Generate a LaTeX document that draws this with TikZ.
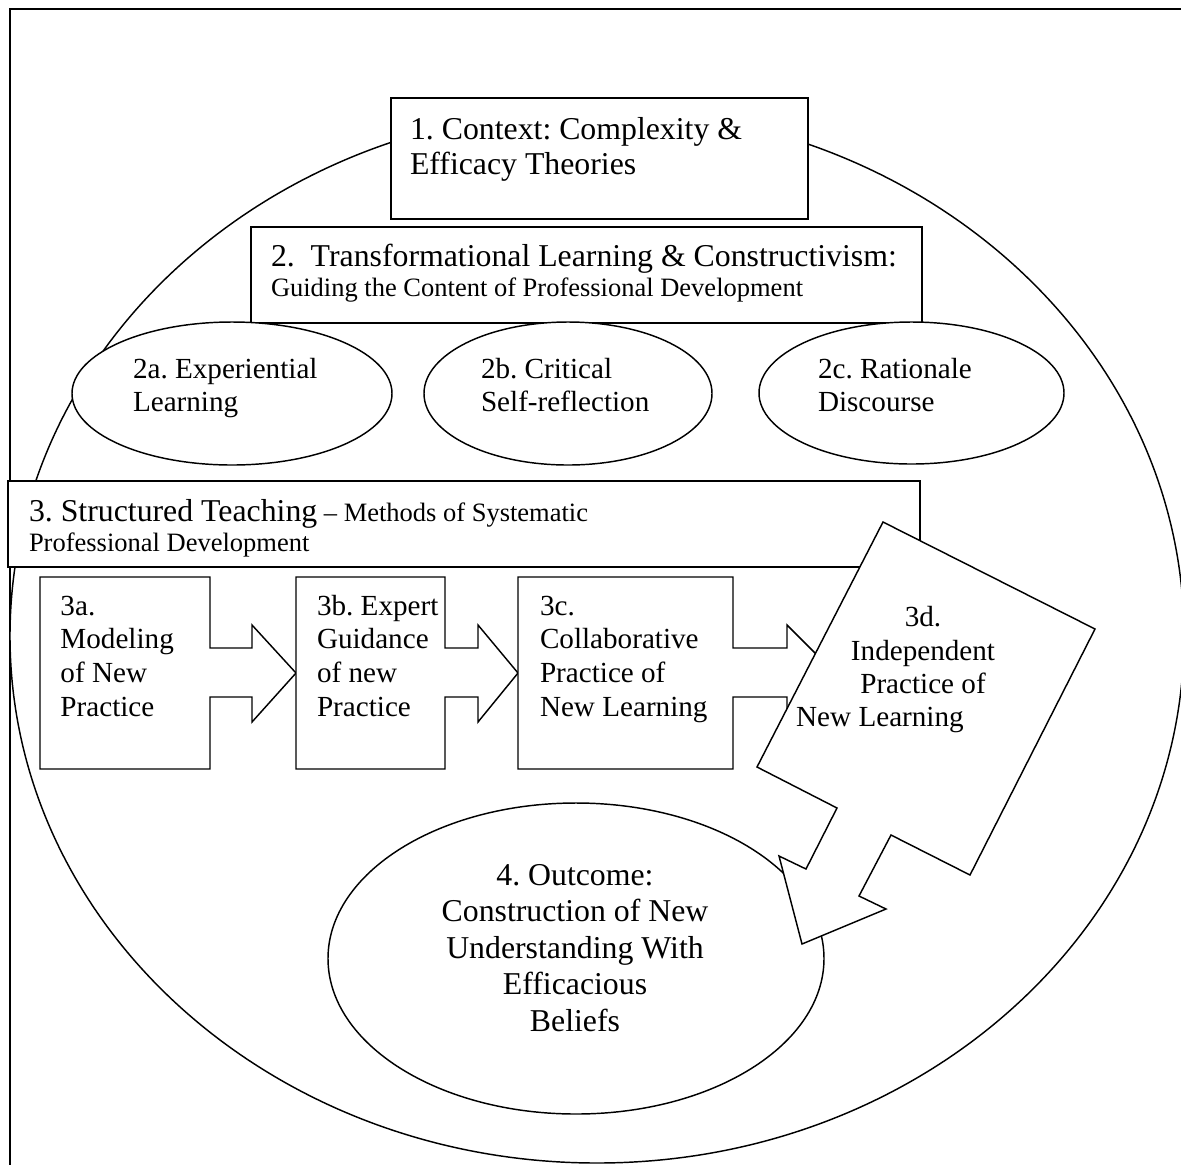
\documentclass[tikz,border=0pt]{standalone}
\usepackage{fontspec}
\setmainfont{Liberation Serif}
\usetikzlibrary{shapes.geometric}
\newcommand\pxu{0.3774pt}
\begin{document}
\frenchspacing
\begin{tikzpicture}[x=0.3774pt, y=-0.3774pt,
  lw/.style={line width=0.55pt},
  shapeline/.style={draw=black, lw, fill=white, line join=miter},
  oval/.style={ellipse, draw=black, lw, fill=white, inner sep=0pt, outer sep=0pt},
  boxn/.style={rectangle, draw=black, lw, fill=white, inner sep=0pt, outer sep=0pt},
  txt/.style={inner sep=0pt, outer sep=0pt, text=black},
  twelve/.style={font=\fontsize{12}{#1}\selectfont},
  eleven/.style={font=\fontsize{11}{#1}\selectfont},
  ten/.style={font=\fontsize{10}{#1}\selectfont}
]
\useasboundingbox (0,0) rectangle (1181,1164);
\fill[white] (0,0) rectangle (1181,1164);
% frame
\draw[lw] (10,1170) -- (10,9) -- (1190,9);
% big ellipse
\node[oval, minimum width=1174*\pxu, minimum height=1054*\pxu] (outer) at (597,636) {};
% box 1
\node[boxn, minimum width=417*\pxu, minimum height=121*\pxu] (b1) at (599.5,158.5) {};
\node[txt, anchor=base west, align=left, twelve=13.2pt] (t1) at (410,174)
  {1. Context: Complexity \&\\Efficacy Theories};
% box 2
\node[boxn, minimum width=671*\pxu, minimum height=96*\pxu] (b2) at (586.5,275) {};
\node[txt, anchor=base west, align=left, ten=11.4pt] (t2) at (271,296.9)
  {{\fontsize{12}{11.4}\selectfont 2.\ \ Transformational Learning \& Constructivism:}\\Guiding the Content of Professional Development};
% ellipses 2a-2c
\node[oval, minimum width=320*\pxu, minimum height=143*\pxu] (e2a) at (232,393.5) {};
\node[oval, minimum width=288*\pxu, minimum height=143*\pxu] (e2b) at (568,393.5) {};
\node[oval, minimum width=305*\pxu, minimum height=142*\pxu] (e2c) at (911.5,393) {};
\node[txt, anchor=base west, align=left, eleven=12.7pt] (t2a) at (133,411.7) {2a. Experiential\\Learning};
\node[txt, anchor=base west, align=left, eleven=12.7pt] (t2b) at (481,411.7) {2b. Critical\\Self-reflection};
\node[txt, anchor=base west, align=left, eleven=12.7pt] (t2c) at (818,411.7) {2c. Rationale\\Discourse};
% box 3
\node[boxn, minimum width=912*\pxu, minimum height=86*\pxu] (b3) at (464,524) {};
\node[txt, anchor=base west, align=left, ten=11.3pt] (t3) at (29,551.6)
  {{\fontsize{12}{11.3}\selectfont 3. Structured Teaching} – Methods of Systematic\\Professional Development};
% callouts 3a-3c
\draw[shapeline] (40,577) -- (210,577) -- (210,648) -- (252,648) -- (252,625) -- (296,673) -- (252,722) -- (252,697) -- (210,697) -- (210,769) -- (40,769) -- cycle;
\draw[shapeline] (296,577) -- (445,577) -- (445,648) -- (478,648) -- (478,625) -- (518,673) -- (478,722) -- (478,697) -- (445,697) -- (445,769) -- (296,769) -- cycle;
\draw[shapeline] (518,577) -- (733,577) -- (733,648) -- (787,648) -- (787,625) -- (835,673) -- (787,722) -- (787,697) -- (733,697) -- (733,769) -- (518,769) -- cycle;
\node[txt, anchor=base west, align=left, eleven=12.7pt] (t3a) at (60.5,716) {3a.\\Modeling\\of New\\Practice};
\node[txt, anchor=base west, align=left, eleven=12.7pt] (t3b) at (317,716) {3b. Expert\\Guidance\\of new\\Practice};
\node[txt, anchor=base west, align=left, eleven=12.7pt] (t3c) at (540,716) {3c.\\Collaborative\\Practice of\\New Learning};
% outcome ellipse
\node[oval, minimum width=496*\pxu, minimum height=311*\pxu] (e4) at (576,958.5) {};
\node[txt, anchor=base, align=center, twelve=13.8pt] (t4) at (575,1031.3)
  {4. Outcome:\\Construction of New\\Understanding With\\Efficacious\\Beliefs};
% 3d callout
\draw[shapeline] (883,522) -- (1095,629) -- (970,875) -- (891,835) -- (859,896) -- (886,909) -- (802,944) -- (779,856) -- (806,869) -- (837,808) -- (757,767) -- cycle;
\node[txt, anchor=base, align=center, eleven=12.6pt] (t3d) at (923,726.9)
  {3d.\\Independent\\Practice of\\New Learning\hspace*{32.5pt}};
\end{tikzpicture}
\end{document}
